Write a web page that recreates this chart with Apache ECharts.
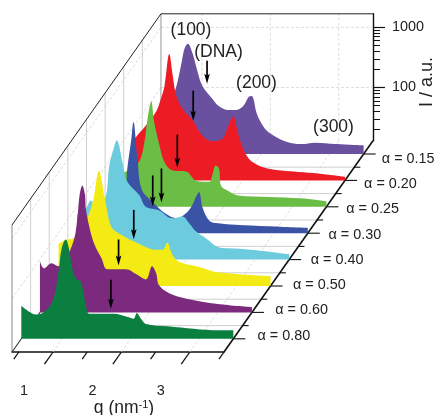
<!DOCTYPE html>
<html><head><meta charset="utf-8">
<style>html,body{margin:0;padding:0;background:#fff}#c{width:438px;height:415px}</style>
<script src="https://cdn.jsdelivr.net/npm/echarts@6/dist/echarts.min.js"></script>
</head><body><div id="c"></div>
<script>
// ---- data (q in nm^-1, I in a.u.) ----
const alphaLabels = ['α = 0.15','α = 0.20','α = 0.25','α = 0.30','α = 0.40','α = 0.50','α = 0.60','α = 0.80'];
const colors = ['#6A51A0','#ED1C24','#6ABD45','#3A53A4','#6CCBDD','#F4EB14','#7B2A7D','#0B7F40'];

const q015=[.40,.59,.69,.76,.84,.88,.93,1.0,1.06,1.14,1.29,1.38,1.52,1.63,1.74,1.82,1.86,1.89,1.93,2.01,2.11,2.36,2.59,2.79,3.09,3.5];
const i015=[50,65,107,170,444,731,886,604,339,177,107,82,70,70,82,116,120,107,65,41,30,21,19,20,19,18];
const q020=[.40,.45,.59,.74,.81,.86,.93,.98,1.03,1.12,1.27,1.41,1.56,1.65,1.72,1.79,1.87,1.90,1.97,2.09,2.28,2.57,2.82,3.11,3.5];
const i020=[60,70,107,184,302,479,1636,731,339,206,130,73,58,60,65,103,152,116,58,30,22,19,18,17,15];
const q025=[.40,.57,.76,.84,.88,.94,.98,1.06,1.13,1.25,1.45,1.60,1.79,1.83,1.88,1.93,1.96,2.06,2.21,2.65,3.13,3.5];
const i025=[41,50,73,158,352,731,339,135,73,52,50,35,34,43,63,56,29,24,20,19,18,16];
const q030=[.40,.74,.84,.86,.92,.95,1.01,1.07,1.23,1.43,1.58,1.72,1.81,1.87,1.91,1.96,2.06,2.19,2.44,2.92,3.5];
const i030=[41,56,79,152,479,920,222,70,43,27,23,28,38,54,63,35,21,19,18,17,16];
const q040=[.40,.52,.60,.68,.81,.87,.93,.98,1.06,1.13,1.31,1.40,1.60,1.79,1.94,2.04,2.14,2.29,2.46,2.61,2.94,3.5];
const i040=[73,89,125,96,135,479,886,1250,558,261,152,99,85,63,68,52,38,29,21,20,19,16];
const q050=[.40,.51,.60,.75,.79,.88,.92,.99,1.07,1.10,1.17,1.29,1.58,1.83,1.92,1.99,2.06,2.16,2.46,2.73,3.5];
const i050=[65,76,79,107,140,269,411,1074,411,269,125,96,65,52,52,68,44,33,27,22,19];
const q060=[.40,.46,.57,.67,.77,.90,.95,.98,1.02,1.06,1.07,1.12,1.19,1.30,1.38,1.53,1.66,1.81,1.95,2.04,2.10,2.14,2.29,2.54,3.0,3.5];
const i060=[92,70,85,76,96,215,517,1160,1680,1160,704,352,184,103,68,68,68,56,46,76,58,37,27,22,18,16];
const q080=[.40,.51,.61,.71,.83,.90,.95,.99,1.05,1.09,1.15,1.20,1.27,1.30,1.34,1.39,1.56,1.75,1.96,2.04,2.09,2.15,2.22,2.54,3.3,3.5];
const i080=[46,37,33,35,48,82,191,411,580,444,184,130,116,85,50,34,34,34,30,28,35,28,23,21,18,18];

// arrows marking the DNA peak: q, tail intensity, tip intensity (one per curve)
const arrowQ   =[1.21,1.28,1.32,1.36,1.505,1.50,1.55,1.71];
const arrowTail=[461,405,206,155,326,240,212,125];
const arrowTip =[191,127,58,42,99,78,78,41];

const qTicksMajor=[1,2,3], qTicksMinor=[.5,1.5,2.5,3.5];
const iTicksMajor=[100,1000];
const iTicksMinor=[20,30,40,50,60,70,80,90,200,300,400,500,600,700,800,900];

// ---- layout ----
const qs=[q015,q020,q025,q030,q040,q050,q060,q080], is=[i015,i020,i025,i030,i040,i050,i060,i080];
const Q0=.4,Q1=3.5,I0=13,I1=1680;
const FX=12,FY=352,W=212,H=127,DX=18.62,DY=26.4;
const depths=[7.5,6.5,5.5,4.5,3.5,2.5,1.5,.5];
const gridAt=d=>({left:FX+d*DX,top:FY-d*DY-H,width:W,height:H,containLabel:false,outerBoundsMode:'none'});
const xHidden=i=>({type:'value',gridIndex:i,min:Q0,max:Q1,show:false});
const yHidden=i=>({type:'log',gridIndex:i,min:I0,max:I1,show:false});
const font='"Liberation Sans",Arial,sans-serif', ink='#222';

const grids=depths.map(gridAt), xAxes=depths.map((d,i)=>xHidden(i)), yAxes=depths.map((d,i)=>yHidden(i));
const FRONT=8,BACK=9;
grids.push(gridAt(0),gridAt(8));
xAxes.push({type:'value',gridIndex:FRONT,min:Q0,max:Q1,position:'bottom',
  axisLine:{show:true,onZero:false,lineStyle:{color:'#111',width:1.6}},axisTick:{show:false},splitLine:{show:false},
  axisLabel:{customValues:qTicksMajor,color:ink,fontFamily:font,fontSize:14.4,margin:32,padding:[0,58,0,0],formatter:v=>String(v)},
  name:'q (nm{s|-1})',nameLocation:'middle',nameGap:47,
  nameTextStyle:{color:ink,fontFamily:font,fontSize:17.5,padding:[0,0,0,12],rich:{s:{fontSize:11,verticalAlign:'top',fontFamily:font,color:ink,padding:[0,0,6,0]}}}
},xHidden(BACK));
yAxes.push(yHidden(FRONT),
 {type:'log',gridIndex:BACK,min:I0,max:I1,position:'right',
  axisLine:{show:true,lineStyle:{color:'#111',width:1.4}},
  axisTick:{show:true,length:12,customValues:iTicksMajor,lineStyle:{color:'#111',width:1.2}},
  axisLabel:{show:true,customValues:iTicksMajor,color:ink,fontFamily:font,fontSize:14.4,margin:19,formatter:v=>String(Math.round(v))},
  splitLine:{show:false},minorTick:{show:false},minorSplitLine:{show:false}},
 {type:'log',gridIndex:BACK,min:I0,max:I1,position:'right',
  axisLine:{show:false},axisLabel:{show:false},splitLine:{show:false},minorTick:{show:false},
  axisTick:{show:true,length:7,customValues:iTicksMinor,lineStyle:{color:'#111',width:1}}});

// ---- box: segments given as q, depth, I ----
const segs=[];
const seg=(q0,d0,i0,q1,d1,i1,stroke,lineWidth,dash)=>segs.push({q0,d0,i0,q1,d1,i1,stroke,lineWidth,dash});
const G='#cfcfcf',D='#d4d4d4',K='#111';
// back wall
qTicksMajor.forEach(q=>seg(q,8,I0,q,8,I1,D,.8,[3,2]));
iTicksMajor.forEach(v=>seg(Q0,8,v,Q1,8,v,D,.8,[3,2]));
// side wall + floor
iTicksMajor.forEach(v=>seg(Q0,0,v,Q0,8,v,D,.8,[3,2]));
qTicksMajor.forEach(q=>seg(q,0,I0,q,8,I0,D,.8,[3,2]));
for(let d=1;d<8;d++){ seg(Q0,d,I0,Q0,d,I1,G,1); seg(Q0,d,I0,Q1,d,I0,G,1); }
seg(Q0,8,I0,Q0,8,I1,'#999',1);
seg(Q0,0,I0,Q0,0,I1,'#888',1);
seg(Q0,0,I1,Q0,8,I1,'#222',1);
seg(Q0,8,I1,Q1,8,I1,'#222',1);
seg(Q0,0,I0,Q0,8,I0,'#333',1.1);
seg(Q1,0,I0,Q1,8,I0,K,1.6);
// slanted q ticks
qTicksMajor.forEach(q=>seg(q,0,I0,q,-.46,I0,K,1.3));
qTicksMinor.forEach(q=>seg(q,0,I0,q,-.27,I0,K,1.3));

// one custom helper: project (q, depth, I) through the front grid's own axes
const proj=(api,q,d,v)=>{const p=api.coord([q,v]);return [p[0]+d*DX,p[1]-d*DY];};
const boxSeries={type:'custom',coordinateSystem:'cartesian2d',xAxisIndex:FRONT,yAxisIndex:FRONT,z:1,silent:true,clip:false,
  data:segs.map(s=>[s.q0,s.i0]),encode:{x:0,y:1},
  renderItem(params,api){const s=segs[params.dataIndex];const a=proj(api,s.q0,s.d0,s.i0),b=proj(api,s.q1,s.d1,s.i1);
    return {type:'line',shape:{x1:a[0],y1:a[1],x2:b[0],y2:b[1]},style:{stroke:s.stroke,lineWidth:s.lineWidth,lineDash:s.dash||null,fill:null}};}};

// depth ticks on right edge + alpha labels
const tickItems=[];
depths.forEach((d,i)=>tickItems.push({d,len:12,text:alphaLabels[i]}));
for(let d=1;d<8;d++)tickItems.push({d,len:6});
const tickSeries={type:'custom',coordinateSystem:'cartesian2d',xAxisIndex:FRONT,yAxisIndex:FRONT,z:6,silent:true,clip:false,
  data:tickItems.map(t=>[Q1,I0]),encode:{x:0,y:1},
  renderItem(params,api){const t=tickItems[params.dataIndex];const a=proj(api,Q1,t.d,I0);
    const kids=[{type:'line',shape:{x1:a[0],y1:a[1],x2:a[0]+t.len,y2:a[1]},style:{stroke:K,lineWidth:1.1,fill:null}}];
    if(t.text)kids.push({type:'text',style:{text:t.text,x:a[0]+24.6-.857*t.d,y:a[1]-3.6+1.14*t.d,fill:ink,font:'14.4px '+font,textAlign:'left',textVerticalAlign:'middle'}});
    return {type:'group',children:kids};}};

const curves=depths.map((d,i)=>({type:'line',name:alphaLabels[i],xAxisIndex:i,yAxisIndex:i,z:2,
  showSymbol:false,smooth:.35,clip:false,silent:true,
  lineStyle:{width:0},itemStyle:{color:colors[i]},areaStyle:{color:colors[i],opacity:1,origin:'start'},
  data:qs[i].map((q,k)=>[q,is[i][k]])}));

const arrows=depths.map((d,i)=>({type:'custom',coordinateSystem:'cartesian2d',xAxisIndex:i,yAxisIndex:i,z:5,silent:true,clip:false,
  data:[[arrowQ[i],arrowTail[i],arrowTip[i]]],encode:{x:0,y:1},
  renderItem(params,api){const a=api.coord([api.value(0),api.value(1)]),b=api.coord([api.value(0),api.value(2)]);
    return {type:'group',children:[
      {type:'line',shape:{x1:a[0],y1:a[1],x2:b[0],y2:b[1]-6},style:{stroke:'#000',lineWidth:1.7,fill:null}},
      {type:'polygon',shape:{points:[[b[0],b[1]],[b[0]-2.8,b[1]-10],[b[0],b[1]-8],[b[0]+2.8,b[1]-10]]},style:{fill:'#000'}}]};}}));

const note=(text,x,y,size,rotation)=>({type:'text',x,y,rotation:rotation||0,z:20,style:{text,fill:ink,font:(size||17.5)+'px '+font,textAlign:'center',textVerticalAlign:'middle'}});

const chart=echarts.init(document.getElementById('c'),null,{renderer:'canvas'});
chart.setOption({animation:false,backgroundColor:'#fff',grid:grids,xAxis:xAxes,yAxis:yAxes,
  series:[boxSeries,...curves,tickSeries,...arrows],
  graphic:[note('(100)',191,30),note('(DNA)',218.5,52),note('(200)',256.5,83),note('(300)',333.5,127),
    note('I / a.u.',427,82,18,Math.PI/2)]});
</script></body></html>
